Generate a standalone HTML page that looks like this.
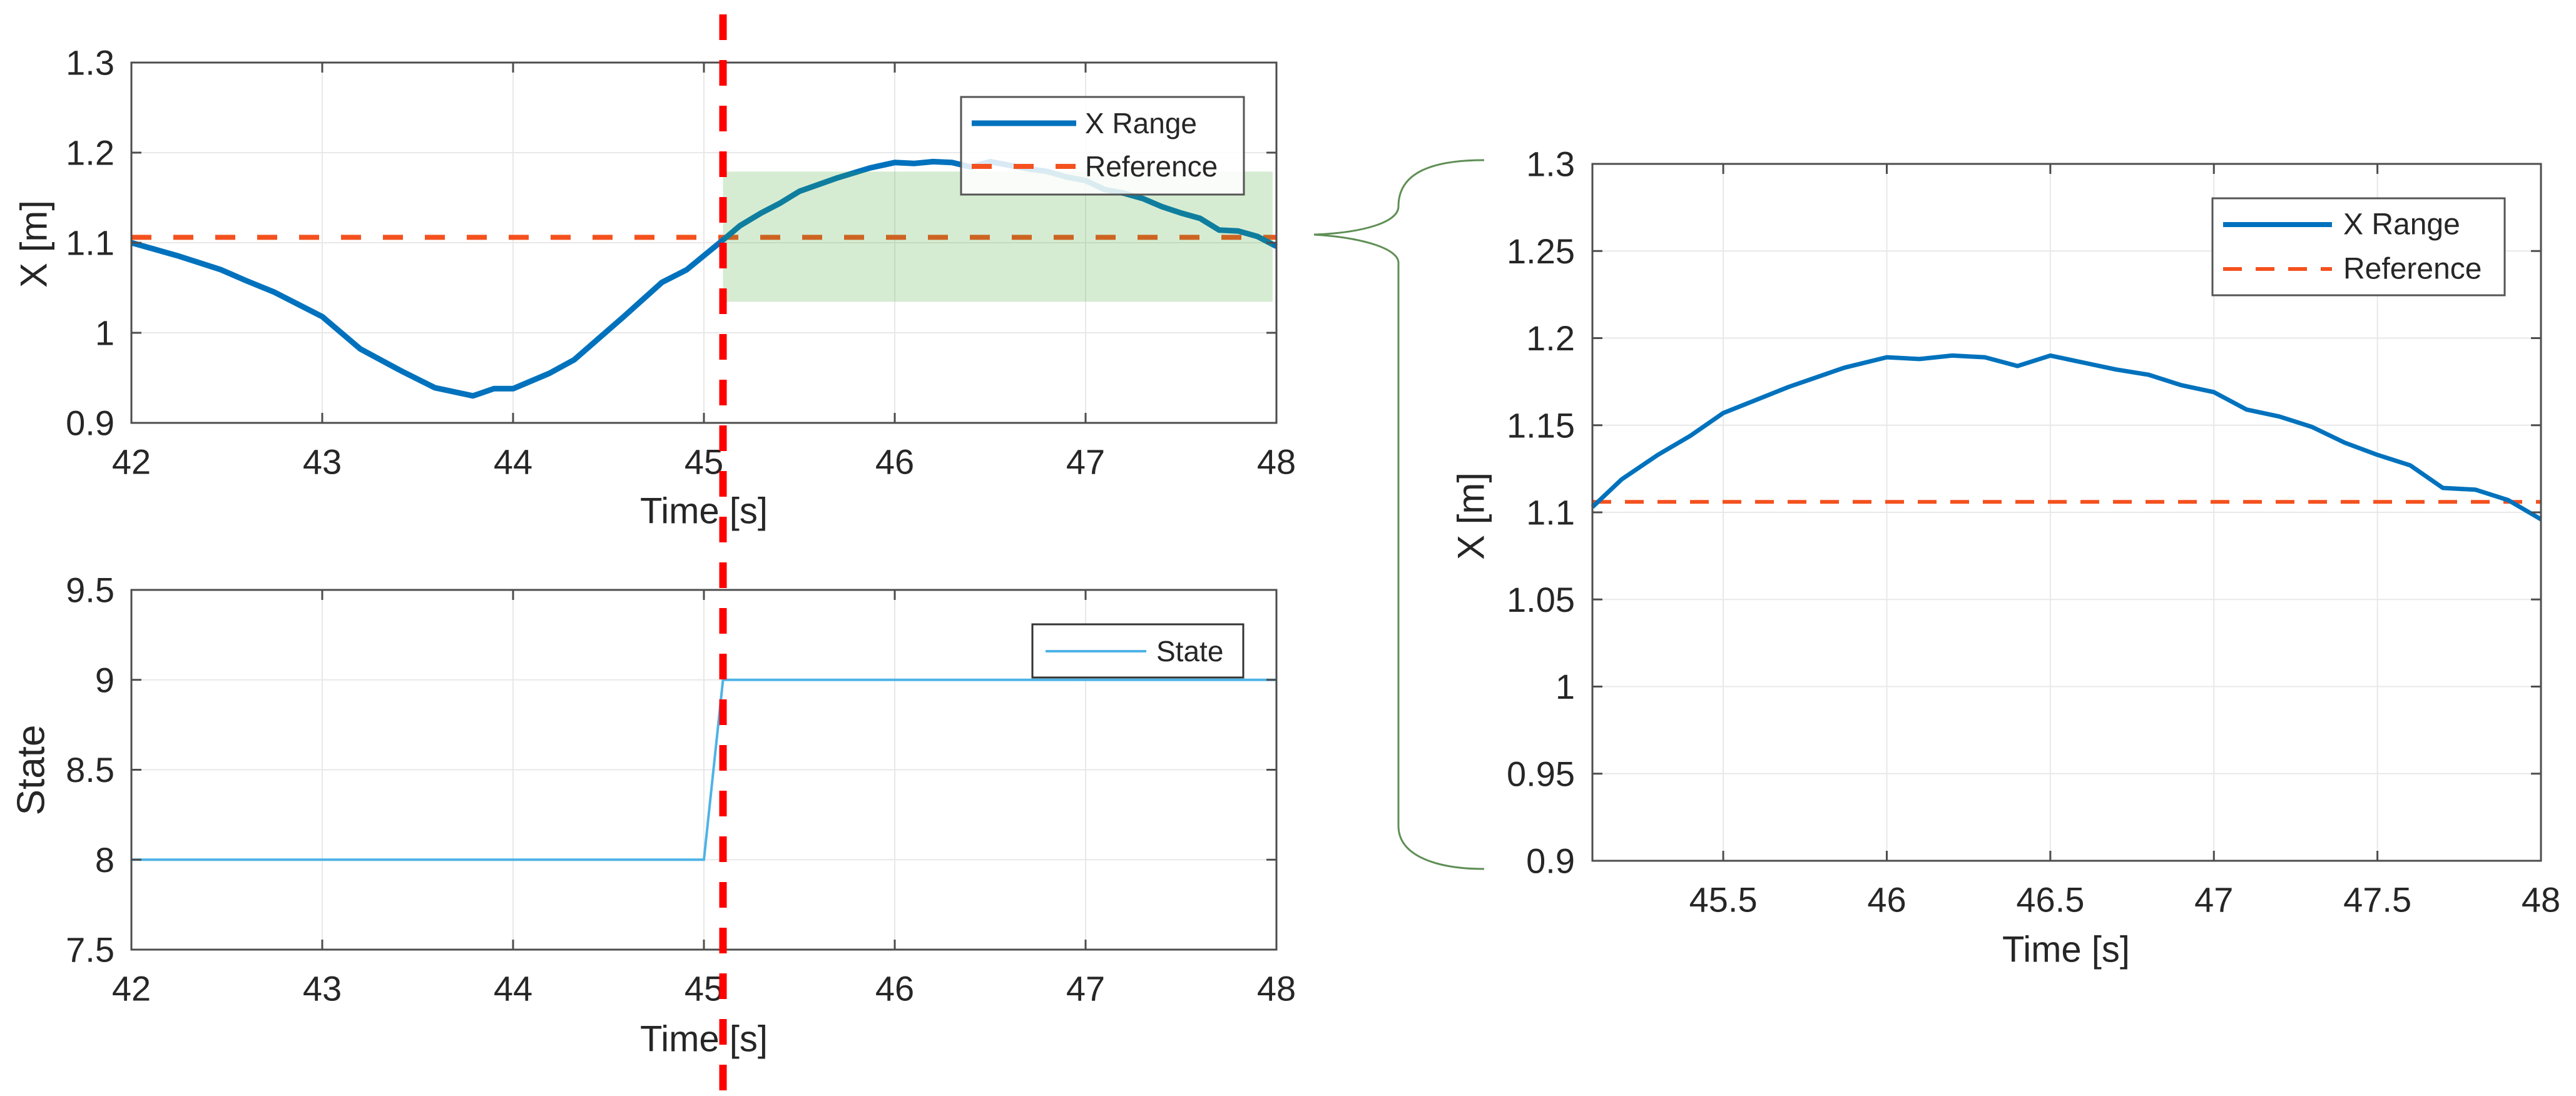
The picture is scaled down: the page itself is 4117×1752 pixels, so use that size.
<!DOCTYPE html>
<html><head><meta charset="utf-8"><style>
html,body{margin:0;padding:0;background:#fff;}
svg{display:block;font-family:"Liberation Sans",Arial,sans-serif;}
</style></head><body>
<svg id="fig" width="4117" height="1752" viewBox="0 0 4117 1752" xmlns="http://www.w3.org/2000/svg"></svg>
<script>
const topTimes=[42,42.25,42.47,42.6,42.75,43.0,43.2,43.42,43.59,43.79,43.9,44.0,44.19,44.32,44.58,44.78,44.91,45.1,45.19,45.3,45.4,45.5,45.7,45.87,46.0,46.1,46.2,46.3,46.4,46.5,46.6,46.7,46.8,46.9,47.0,47.1,47.2,47.3,47.4,47.5,47.6,47.7,47.8,47.9,48.0];
const topValues=[1.100,1.085,1.070,1.058,1.045,1.018,0.982,0.957,0.939,0.930,0.938,0.938,0.955,0.970,1.018,1.056,1.070,1.103,1.119,1.133,1.144,1.157,1.172,1.183,1.189,1.188,1.190,1.189,1.184,1.190,1.186,1.182,1.179,1.173,1.169,1.159,1.155,1.149,1.140,1.133,1.127,1.114,1.113,1.107,1.096];
const referenceValue=1.106;
const bandRange=[45.1,47.98,1.0345,1.179];
const stateTimes=[42,45.0,45.1,48];
const stateValues=[8,8,9,9];
const eventTime=45.1;
const xTicksMain=[42,43,44,45,46,47,48];
const yTicksTop=[0.9,1,1.1,1.2,1.3];
const yTickLabelsTop=["0.9","1","1.1","1.2","1.3"];
const yTicksState=[7.5,8,8.5,9,9.5];
const yTickLabelsState=["7.5","8","8.5","9","9.5"];
const xTicksZoom=[45.5,46,46.5,47,47.5,48];
const xTickLabelsZoom=["45.5","46","46.5","47","47.5","48"];
const yTicksZoom=[0.9,0.95,1,1.05,1.1,1.15,1.2,1.25,1.3];
const yTickLabelsZoom=["0.9","0.95","1","1.05","1.1","1.15","1.2","1.25","1.3"];

const NS="http://www.w3.org/2000/svg";
const svg=document.getElementById('fig');
function mk(tag,attrs,parent){const e=document.createElementNS(NS,tag);for(const k in attrs)e.setAttribute(k,attrs[k]);(parent||svg).appendChild(e);return e;}
function txt(s,x,y,size,anchor,parent,rot){const t=mk('text',{x:x,y:y,'font-size':size,'text-anchor':anchor||'middle','dominant-baseline':'central',fill:'#262626'},parent);if(rot)t.setAttribute('transform','rotate(-90 '+x+' '+y+')');t.textContent=s;return t;}
function scale(d0,d1,r0,r1){return v=>r0+(v-d0)/(d1-d0)*(r1-r0);}

function axes(name,L,R,T,B,xd,yd,xt,xtl,yt,ytl,fs,yLabRight){
  const g=mk('g',{});
  
  
  const sx=scale(xd[0],xd[1],L,R), sy=scale(yd[0],yd[1],B,T);
  xt.forEach(v=>{const l=mk('line',{x1:sx(v),x2:sx(v),y1:T,y2:B,stroke:'#e8e8e8','stroke-width':2},g);});
  yt.forEach(v=>{const l=mk('line',{x1:L,x2:R,y1:sy(v),y2:sy(v),stroke:'#e8e8e8','stroke-width':2},g);});
  return {g,sx,sy,finish:()=>{
    const box=mk('rect',{x:L,y:T,width:R-L,height:B-T,fill:'none',stroke:'#4d4d4d','stroke-width':3},g);
    
    xt.forEach((v,i)=>{mk('line',{x1:sx(v),x2:sx(v),y1:B,y2:B-16,stroke:'#4d4d4d','stroke-width':3},g);mk('line',{x1:sx(v),x2:sx(v),y1:T,y2:T+16,stroke:'#4d4d4d','stroke-width':3},g);
      const t=txt(xtl[i],sx(v),B+62,fs,'middle',g);});
    yt.forEach((v,i)=>{mk('line',{x1:L,x2:L+16,y1:sy(v),y2:sy(v),stroke:'#4d4d4d','stroke-width':3},g);mk('line',{x1:R,x2:R-16,y1:sy(v),y2:sy(v),stroke:'#4d4d4d','stroke-width':3},g);
      const t=txt(ytl[i],L-yLabRight,sy(v),fs,'end',g);});
  }};
}
function pathFrom(xs,ys,sx,sy){return xs.map((x,i)=>(i?'L':'M')+sx(x).toFixed(1)+','+sy(ys[i]).toFixed(1)).join(' ');}

// ---------- Top chart ----------
const A=axes('x-range-chart',210,2040,100,676,[42,48],[0.9,1.3],xTicksMain,xTicksMain.map(String),yTicksTop,yTickLabelsTop,56,27);
const refA=mk('line',{x1:210,x2:2040,y1:A.sy(referenceValue),y2:A.sy(referenceValue),stroke:'#f4511e','stroke-width':8,'stroke-dasharray':'32,35'},A.g);

const lineA=mk('path',{d:pathFrom(topTimes,topValues,A.sx,A.sy),fill:'none',stroke:'#0072bd','stroke-width':9,'stroke-linejoin':'round'},A.g);

const band=mk('rect',{x:A.sx(bandRange[0]),y:A.sy(bandRange[3]),width:A.sx(bandRange[1])-A.sx(bandRange[0]),height:A.sy(bandRange[2])-A.sy(bandRange[3]),fill:'rgb(70,170,50)','fill-opacity':0.22},A.g);

A.finish();
const legA=mk('g',{});

mk('rect',{x:1536,y:155,width:452,height:156,fill:'#fff','fill-opacity':0.85,stroke:'#555','stroke-width':3},legA);
mk('line',{x1:1553,x2:1720,y1:197,y2:197,stroke:'#0072bd','stroke-width':9},legA);
mk('line',{x1:1553,x2:1720,y1:266,y2:266,stroke:'#f4511e','stroke-width':8,'stroke-dasharray':'32,35'},legA);
txt('X Range',1734,197,46,'start',legA);txt('Reference',1734,266,46,'start',legA);
const xlA=txt('Time [s]',1125,817,58,'middle');
const ylA=txt('X [m]',54,390,60,'middle',null,true);

// ---------- State chart ----------
const S=axes('state-chart',210,2040,943,1518,[42,48],[7.5,9.5],xTicksMain,xTicksMain.map(String),yTicksState,yTickLabelsState,56,27);
const lineS=mk('path',{d:pathFrom(stateTimes,stateValues,S.sx,S.sy),fill:'none',stroke:'#4db3e6','stroke-width':4},S.g);

S.finish();
const legS=mk('g',{});

mk('rect',{x:1650,y:998,width:337,height:85,fill:'#fff',stroke:'#333','stroke-width':3},legS);
mk('line',{x1:1671,x2:1832,y1:1041,y2:1041,stroke:'#4db3e6','stroke-width':4},legS);
txt('State',1848,1041,46,'start',legS);
const xlS=txt('Time [s]',1125,1661,58,'middle');
const ylS=txt('State',50,1231,62,'middle',null,true);

// ---------- Zoomed chart ----------
const Z=axes('zoomed-x-range-chart',2545,4061,262,1376,[45.1,48],[0.9,1.3],xTicksZoom,xTickLabelsZoom,yTicksZoom,yTickLabelsZoom,56,28);
const zi=topTimes.map((t,i)=>i).filter(i=>topTimes[i]>=45.1);
const refZ=mk('line',{x1:2545,x2:4061,y1:Z.sy(referenceValue),y2:Z.sy(referenceValue),stroke:'#f4511e','stroke-width':6,'stroke-dasharray':'30,22'},Z.g);

const lineZ=mk('path',{d:pathFrom(zi.map(i=>topTimes[i]),zi.map(i=>topValues[i]),Z.sx,Z.sy),fill:'none',stroke:'#0072bd','stroke-width':7,'stroke-linejoin':'round'},Z.g);

Z.finish();
const legZ=mk('g',{});

mk('rect',{x:3536,y:317,width:467,height:155,fill:'#fff',stroke:'#555','stroke-width':3},legZ);
mk('line',{x1:3553,x2:3727,y1:359,y2:359,stroke:'#0072bd','stroke-width':8},legZ);
mk('line',{x1:3553,x2:3727,y1:430,y2:430,stroke:'#f4511e','stroke-width':6,'stroke-dasharray':'30,22'},legZ);
txt('X Range',3745,359,48,'start',legZ);txt('Reference',3745,430,48,'start',legZ);
const xlZ=txt('Time [s]',3302,1518,58,'middle');
const ylZ=txt('X [m]',2351,825,60,'middle',null,true);

// ---------- brace & event line ----------
const brace=mk('path',{d:'M2372,256 C2290,256 2235,275 2235,330 C2235,355 2180,372 2100,375 C2180,380 2235,398 2235,420 L2235,1320 C2235,1370 2300,1389 2372,1389',fill:'none',stroke:'#5f8f55','stroke-width':3});

const ev=mk('line',{x1:A.sx(eventTime),x2:A.sx(eventTime),y1:23,y2:1752,stroke:'#ff0000','stroke-width':12,'stroke-dasharray':'41,32'});

</script>
</body></html>
